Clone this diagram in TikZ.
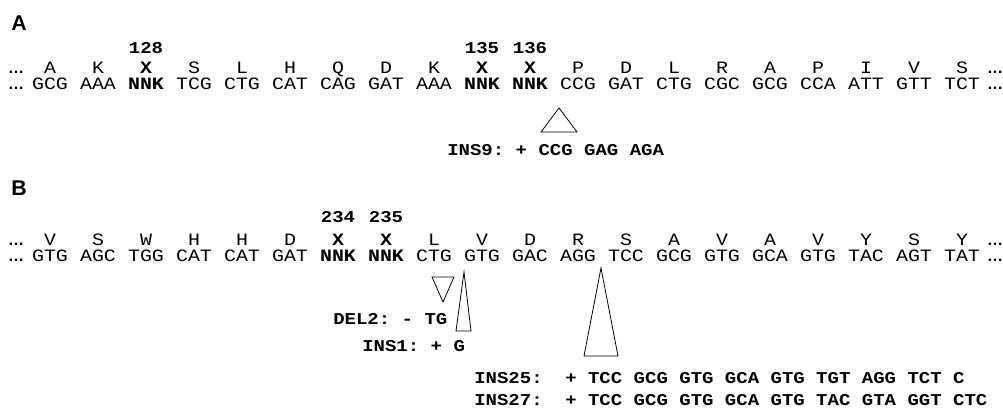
\documentclass[tikz,border=0pt]{standalone}
\usepackage{fontspec}
\setmainfont{Liberation Serif}
\setsansfont{Liberation Sans}
\setmonofont{Liberation Mono}
\newfontfamily\seqfont[FakeStretch=1.15]{Liberation Mono}
\usetikzlibrary{calc}

\newcommand{\varpos}[1]{\textbf{#1}}

\begin{document}
\frenchspacing
\begin{tikzpicture}[x=0.75pt,y=-0.75pt,
    seq/.style={font=\seqfont\fontsize{13}{13}\selectfont,anchor=base,inner sep=0pt},
    num/.style={font=\seqfont\bfseries\fontsize{12.4}{12}\selectfont,anchor=base,inner sep=0pt},
    mut/.style={font=\seqfont\bfseries\fontsize{12.4}{12}\selectfont,anchor=base west,inner sep=0pt},
    panel/.style={font=\sffamily\bfseries\fontsize{16}{16}\selectfont,anchor=base,inner sep=0pt},
    dots/.style={font=\sffamily\bfseries\fontsize{12}{12}\selectfont,anchor=base,inner sep=0pt},
    indel/.style={draw,line width=0.6pt,line join=miter}]
  \useasboundingbox (0,0) rectangle (1003,409);

  % ---- panel A
  \node[panel] (labA) at (19,31) {A};
  \foreach \a [count=\i from 0] in {A,K,\varpos{X},S,L,H,Q,D,K,\varpos{X},\varpos{X},P,D,L,R,A,P,I,V,S}
    \node[seq] (pa\i) at ({50+48*\i},74) {\a};
  \foreach \c [count=\i from 0] in {GCG,AAA,\varpos{NNK},TCG,CTG,CAT,CAG,GAT,AAA,\varpos{NNK},\varpos{NNK},CCG,GAT,CTG,CGC,GCG,CCA,ATT,GTT,TCT}
    \node[seq] (ca\i) at ({50+48*\i},90) {\c};
  \node[dots] (pal) at (16,74) {…};
  \node[dots] (par) at (995,74) {…};
  \node[dots] (cal) at (16,90) {…};
  \node[dots] (car) at (995,90) {…};
  \node[num] (n128) at (pa2 |- 0,54) {128};
  \node[num] (n135) at (pa9 |- 0,54) {135};
  \node[num] (n136) at (pa10 |- 0,54) {136};

  \coordinate (ins9tip) at (559,108);
  \draw[indel] (ins9tip) -- ++(-18,24) -- ++(36,0) -- cycle;
  \node[mut] (ins9) at (447,156) {INS9: + CCG GAG AGA};

  % ---- panel B
  \node[panel] (labB) at (19,196) {B};
  \foreach \a [count=\i from 0] in {V,S,W,H,H,D,\varpos{X},\varpos{X},L,V,D,R,S,A,V,A,V,Y,S,Y}
    \node[seq] (pb\i) at ({50+48*\i},246) {\a};
  \foreach \c [count=\i from 0] in {GTG,AGC,TGG,CAT,CAT,GAT,\varpos{NNK},\varpos{NNK},CTG,GTG,GAC,AGG,TCC,GCG,GTG,GCA,GTG,TAC,AGT,TAT}
    \node[seq] (cb\i) at ({50+48*\i},262) {\c};
  \node[dots] (pbl) at (16,246) {…};
  \node[dots] (pbr) at (995,246) {…};
  \node[dots] (cbl) at (16,262) {…};
  \node[dots] (cbr) at (995,262) {…};
  \node[num] (n234) at (pb6 |- 0,223) {234};
  \node[num] (n235) at (pb7 |- 0,223) {235};

  \coordinate (del2top) at (443,277);
  \draw[indel] (del2top) ++(-11,0) -- ++(22,0) -- ++(-11,25) -- cycle;
  \coordinate (ins1tip) at (464,272);
  \draw[indel] (ins1tip) -- ++(-8,59) -- ++(15,0) -- cycle;
  \coordinate (ins25tip) at (601,268);
  \draw[indel] (ins25tip) -- ++(-17,88) -- ++(34,0) -- cycle;

  \node[mut] (del2) at (333,325) {DEL2: - TG};
  \node[mut] (ins1) at (362,352) {INS1: + G};
  \node[mut] (ins25) at (474,383) {INS25:};
  \node[mut] (ins25s) at (565,383) {+ TCC GCG GTG GCA GTG TGT AGG TCT C};
  \node[mut] (ins27) at (474,406) {INS27:};
  \node[mut] (ins27s) at (565,406) {+ TCC GCG GTG GCA GTG TAC GTA GGT CTC};
\end{tikzpicture}
\end{document}
